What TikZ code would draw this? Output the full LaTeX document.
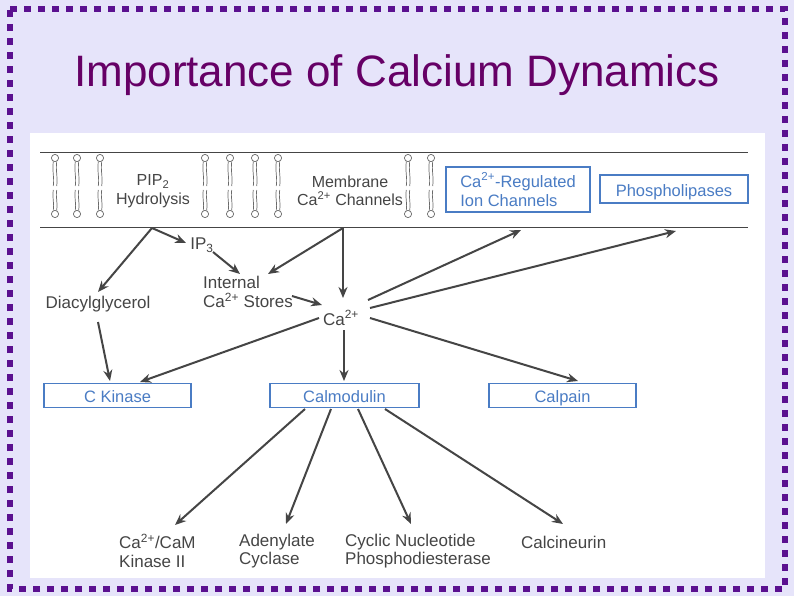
\documentclass[tikz,border=0pt]{standalone}
\usepackage{fontspec}
\setmainfont{Liberation Sans}
\usetikzlibrary{arrows.meta}
\definecolor{bg}{HTML}{E6E4FA}
\definecolor{pur}{HTML}{5B1090}
\definecolor{tit}{HTML}{660066}
\definecolor{bl}{HTML}{4A7CC4}
\definecolor{ar}{HTML}{454545}
\begin{document}
\begin{tikzpicture}[x=1pt,y=-1pt,
  arr/.style={draw=ar,line width=2pt,-{Stealth[length=11pt,width=9pt]}},
  box/.style={draw=bl,line width=1.3pt,text=bl,minimum height=24pt,inner sep=0pt,font=\fontsize{16.5}{19}\selectfont,text height=14pt,text depth=0pt},
  lab/.style={text=ar,font=\fontsize{17}{18.5}\selectfont,inner sep=1pt,align=left},
  lip/.style={draw=ar!80,line width=0.7pt}]
\useasboundingbox (0,0) rectangle (794,596);
\fill[bg] (0,0) rectangle (794,596);
\draw[pur,line width=6pt,dash pattern=on 7pt off 7pt] (10,9) -- (785,9) -- (785,589) -- (10,589) -- cycle;
\node[text=tit,font=\fontsize{44}{48}\selectfont] (title) at (397,75) {Importance of Calcium Dynamics};
\fill[white] (30,133) rectangle (765,578);
% membrane
\draw[ar,line width=0.9pt] (40,152) -- (748,152);
\draw[ar,line width=0.9pt] (40,227) -- (748,227);
\foreach \x in {55,77,100,205,230,255,278,408,431}{
  \draw[lip] (\x,158) circle (3.6);
  \draw[lip] (\x,214) circle (3.6);
  \draw[lip] (\x-1.7,161.5) .. controls (\x-3,172) and (\x-0.5,176) .. (\x-1.7,186);
  \draw[lip] (\x+1.7,161.5) .. controls (\x+0.5,172) and (\x+3,176) .. (\x+1.7,186);
  \draw[lip] (\x-1.7,190) .. controls (\x-3,198) and (\x-0.5,203) .. (\x-1.7,210.5);
  \draw[lip] (\x+1.7,190) .. controls (\x+0.5,198) and (\x+3,203) .. (\x+1.7,210.5);
}
\node[lab,align=center,font=\fontsize{16}{18.5}\selectfont] (pip) at (153,191) {PIP\textsubscript{2}\\Hydrolysis};
\node[lab,align=center,font=\fontsize{16}{18.5}\selectfont] (mem) at (350,191) {Membrane\\Ca\textsuperscript{2+} Channels};
\node[draw=bl,line width=1.3pt,text=bl,inner sep=0pt,minimum width=144pt,minimum height=45pt,align=left,font=\fontsize{16.5}{19}\selectfont] (ion) at (518,189.5) {Ca\textsuperscript{2+}-Regulated\\Ion Channels};
\node[box,minimum width=148pt,minimum height=28pt] (pl) at (674,189) {Phospholipases};
\coordinate (s1) at (152,228);
\coordinate (s2) at (343,228);
\node[lab] (ip3) at (202,245) {IP\textsubscript{3}};
\node[lab] (dag) at (98,304) {Diacylglycerol};
\node[lab] (ics) at (248,292) {Internal\\Ca\textsuperscript{2+} Stores};
\node[lab] (ca) at (341,318) {Ca\textsuperscript{2+}};
\node[box,minimum width=147pt] (ck) at (117.5,395.5) {C Kinase};
\node[box,minimum width=149pt] (cam) at (344.5,395.5) {Calmodulin};
\node[box,minimum width=147pt] (cp) at (562.5,395.5) {Calpain};
\node[lab,anchor=west] (k2) at (118,551) {Ca\textsuperscript{2+}/CaM\\Kinase II};
\node[lab,anchor=west] (ac) at (238,551) {Adenylate\\Cyclase};
\node[lab,anchor=west] (pde) at (344,551) {Cyclic Nucleotide\\Phosphodiesterase};
\node[lab,anchor=west] (cn) at (520,542) {Calcineurin};
% arrows
\draw[arr] (s1) -- (98,292);
\draw[arr] (s1) -- (186,243);
\draw[arr] (213,252) -- (240,274);
\draw[arr] (s2) -- (268,274);
\draw[arr] (s2) -- (343,298);
\draw[arr] (292,296) -- (322,305);
\draw[arr] (98,322) -- (110,381);
\draw[arr] (319,318) -- (140,382);
\draw[arr] (344,330) -- (344,381);
\draw[arr] (368,300) -- (521,230);
\draw[arr] (370,308) -- (676,231);
\draw[arr] (370,318) -- (578,381);
\draw[arr] (305,409) -- (175,525);
\draw[arr] (331,409) -- (286,524);
\draw[arr] (358,409) -- (411,524);
\draw[arr] (385,409) -- (563,524);
\end{tikzpicture}
\end{document}
